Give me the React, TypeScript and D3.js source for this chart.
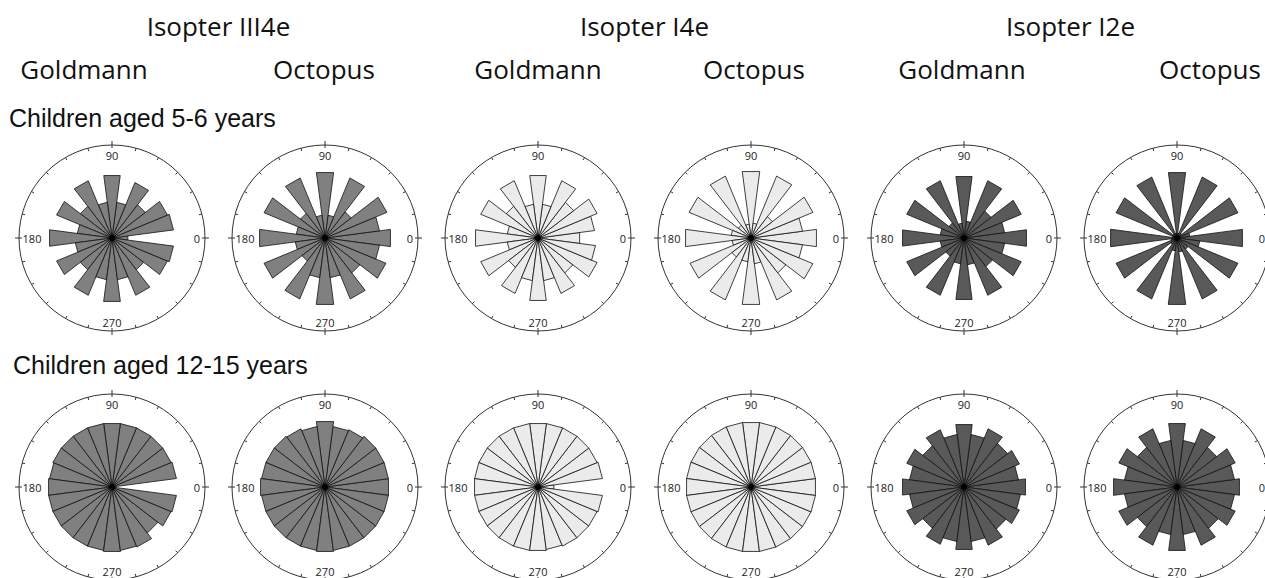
import React, { useEffect, useRef } from 'react';
import * as d3 from 'd3';

// bin centres in degrees (0 = right, counter-clockwise)
const binAngles = [0, 15, 30, 45, 60, 75, 90, 105, 120, 135, 150, 165, 180, 195, 210, 225, 240, 255, 270, 285, 300, 315, 330, 345];

// children aged 5-6 years
const goldmannIII4eYoung = [16, 62, 60, 42, 60, 36, 63, 36, 62, 40, 60, 35, 63, 37, 60, 40, 62, 42, 64, 42, 62, 40, 60, 62];
const octopusIII4eYoung = [66, 55, 67, 33, 65, 23, 66, 23, 65, 31, 66, 29, 66, 30, 66, 29, 66, 40, 67, 40, 66, 44, 66, 55];
const goldmannI4eYoung = [42, 57, 64, 45, 62, 34, 63, 34, 62, 40, 62, 31, 63, 31, 62, 37, 60, 43, 63, 43, 60, 44, 64, 58];
const octopusI4eYoung = [66, 52, 67, 27, 67, 15, 67, 14, 67, 16, 67, 20, 66, 19, 66, 24, 67, 24, 67, 26, 67, 44, 67, 52];
const goldmannI2eYoung = [63, 41, 62, 34, 62, 17, 62, 15, 62, 19, 62, 24, 62, 24, 62, 23, 62, 26, 62, 27, 62, 36, 62, 41];
const octopusI2eYoung = [66, 13, 66, 6, 66, 5, 66, 5, 66, 5, 66, 5, 67, 6, 66, 8, 66, 13, 67, 14, 66, 14, 66, 23];

// children aged 12-15 years
const goldmannIII4eOld = [4, 65, 64, 64, 64, 64, 64, 64, 64, 64, 64, 63, 64, 64, 64, 64, 64, 64, 65, 64, 65, 58, 64, 65];
const octopusIII4eOld = [64, 64, 64, 64, 62, 61, 66, 61, 63, 64, 64, 64, 65, 64, 64, 64, 64, 64, 65, 64, 64, 64, 64, 64];
const goldmannI4eOld = [16, 65, 64, 64, 64, 64, 64, 64, 64, 64, 64, 64, 64, 64, 64, 64, 64, 64, 64, 63, 64, 64, 64, 65];
const octopusI4eOld = [65, 65, 65, 65, 65, 65, 65, 65, 65, 65, 65, 65, 65, 65, 65, 65, 65, 65, 65, 65, 65, 65, 65, 65];
const goldmannI2eOld = [62, 55, 60, 55, 63, 53, 63, 53, 62, 52, 62, 55, 62, 55, 62, 52, 62, 55, 63, 55, 63, 53, 60, 57];
const octopusI2eOld = [63, 58, 63, 50, 63, 47, 64, 47, 63, 50, 63, 53, 64, 53, 63, 50, 63, 48, 64, 48, 63, 52, 63, 58];

const isopters = ['Isopter III4e', 'Isopter I4e', 'Isopter I2e'];
const devices = ['Goldmann', 'Octopus'];
const groups = ['Children aged 5-6 years', 'Children aged 12-15 years'];
const axisLabels = [0, 90, 180, 270];

const rows = [
  [goldmannIII4eYoung, octopusIII4eYoung, goldmannI4eYoung, octopusI4eYoung, goldmannI2eYoung, octopusI2eYoung],
  [goldmannIII4eOld, octopusIII4eOld, goldmannI4eOld, octopusI4eOld, goldmannI2eOld, octopusI2eOld],
];
const fills = ['#808080', '#808080', '#ebebeb', '#ebebeb', '#595959', '#595959'];

const W = 1265, H = 578;

const App = () => {
  const ref = useRef<SVGSVGElement>(null);

  useEffect(() => {
    document.body.style.margin = '0';
    const svg = d3.select(ref.current);
    svg.selectAll('*').remove();

    const R = 93;
    const rScale = d3.scaleLinear().domain([0, 93]).range([0, R]);
    // degrees (math convention) -> d3 radial angle (0 at top, clockwise)
    const aScale = d3.scaleLinear().domain([0, 360]).range([Math.PI / 2, Math.PI / 2 - 2 * Math.PI]);
    const halfBin = 7.5;

    const cx = d3.scaleLinear().domain([0, 5]).range([112, 1177]);
    const cy = d3.scaleLinear().domain([0, 1]).range([238, 487]);

    const wedge = d3.lineRadial<[number, number]>()
      .angle(d => d[0])
      .radius(d => d[1])
      .curve(d3.curveLinearClosed);

    // headers
    const headerFont = '"Open Sans", sans-serif';
    isopters.forEach((t, i) => {
      svg.append('text')
        .attr('x', (cx(i * 2) + cx(i * 2 + 1)) / 2)
        .attr('y', 36)
        .attr('text-anchor', 'middle')
        .style('font-family', headerFont)
        .style('font-size', '26px')
        .style('fill', '#111')
        .text(t);
    });
    const deviceX = [84, 324, 538, 754, 962, 1210];
    deviceX.forEach((x, i) => {
      svg.append('text')
        .attr('x', x)
        .attr('y', 79)
        .attr('text-anchor', 'middle')
        .style('font-family', headerFont)
        .style('font-size', '26px')
        .style('fill', '#111')
        .text(devices[i % 2]);
    });
    const groupY = [127, 374];
    const groupX = [9, 13];
    groups.forEach((g, i) => {
      svg.append('text')
        .attr('x', groupX[i])
        .attr('y', groupY[i])
        .style('font-family', '"Liberation Sans", Arial, sans-serif')
        .style('font-size', '25px')
        .style('fill', '#111')
        .text(g);
    });

    rows.forEach((row, ri) => {
      row.forEach((values, ci) => {
        const g = svg.append('g').attr('transform', `translate(${cx(ci)},${cy(ri)})`);

        // outer circle
        g.append('circle').attr('r', R).attr('fill', 'none').attr('stroke', '#333').attr('stroke-width', 1);

        // ticks every 15 degrees
        binAngles.forEach(a => {
          const t = aScale(a);
          const cardinal = a % 90 === 0;
          const r0 = R - 3, r1 = cardinal ? R + 4 : R;
          g.append('line')
            .attr('x1', r0 * Math.sin(t)).attr('y1', -r0 * Math.cos(t))
            .attr('x2', r1 * Math.sin(t)).attr('y2', -r1 * Math.cos(t))
            .attr('stroke', '#333').attr('stroke-width', 1);
        });

        // axis labels
        const labelR = [85, 83, 80, 84];
        axisLabels.forEach((a, li) => {
          const t = aScale(a);
          g.append('text')
            .attr('x', labelR[li] * Math.sin(t))
            .attr('y', -labelR[li] * Math.cos(t))
            .attr('text-anchor', 'middle')
            .attr('dominant-baseline', 'central')
            .style('font-family', headerFont)
            .style('font-size', '11px')
            .style('fill', '#222')
            .text(a);
        });

        // wedges
        values.forEach((v, k) => {
          const a = binAngles[k];
          const pts: [number, number][] = [
            [0, 0],
            [aScale(a - halfBin), rScale(v)],
            [aScale(a + halfBin), rScale(v)],
          ];
          g.append('path')
            .attr('d', wedge(pts))
            .attr('fill', fills[ci])
            .attr('stroke', '#111')
            .attr('stroke-width', 0.8)
            .attr('stroke-linejoin', 'round');
        });

        g.append('circle').attr('r', 3).attr('fill', '#000');
      });
    });
  }, []);

  return <svg ref={ref} width={W} height={H} style={{ display: 'block', background: '#fff' }} />;
};

export default App;
